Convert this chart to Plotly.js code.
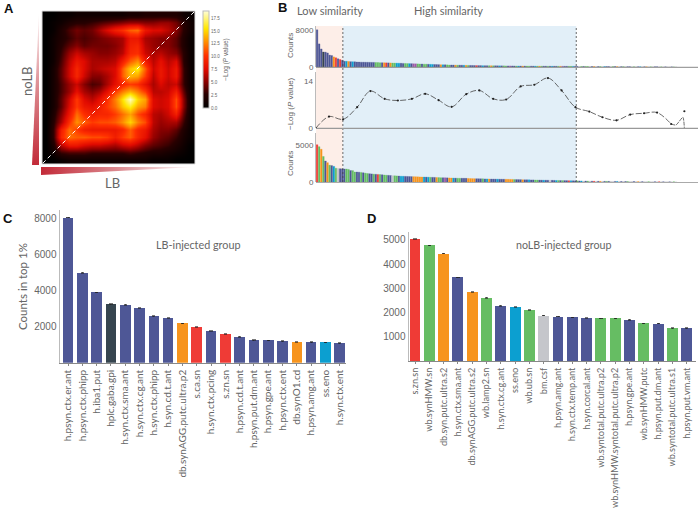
<!DOCTYPE html>
<html><head><meta charset="utf-8">
<script src="https://cdn.plot.ly/plotly-3.0.1.min.js"></script>
<style>html,body{margin:0;padding:0;background:#fff}#c{width:700px;height:511px}</style>
</head><body><div id="c"></div>
<script>
const W=700,H=511;
const heat=[
[0,0,.5,.5,1,1,1,1,1,1,1,1.5,1.5,2,2,2,2,2,1,.5],
[0,.5,1,2,2.5,2.5,3,3.5,4,4.5,5,5.5,5.5,5,5,5.5,5.5,4.5,2.5,1],
[0,.5,2,3.5,4.5,4,4.5,6,7.5,9,10,11.5,12,8.5,7.5,7.5,6.5,5,2.5,1],
[0,1,2,3,4,3.5,4,4.5,5,5.5,6,8.5,8.5,6,5.5,5,5,4,2,.5],
[0,1,2.5,4,5,4,4.5,4.5,4.5,5,6,9,9.5,6.5,5.5,5,5,4,2,.5],
[0,1,3,5.5,7,6,5.5,5,5,5.5,6.5,9.5,10,7,6,6.5,5.5,5,2.5,.5],
[0,1,3.5,6.5,8.5,7.5,6,6,6,6.5,9,11.5,13,9,6.5,8,6.5,7.5,2.5,.5],
[0,1.5,4,7,9.5,7.5,6,6.5,7,7.5,11.5,14.5,16,11.5,7,8.5,7,8.5,3,.5],
[0,1.5,4,7,9.5,7,5,5,6,7.5,11.5,14,13.5,10.5,6.5,8.5,7,8.5,3,.5],
[0,1.5,3.5,5.5,7,5,3.5,4,6,8,9.5,10.5,10,8,6,7.5,6.5,7,3,.5],
[0,1.5,3.5,5.5,8,6,5,6,8,10.5,12.5,14,12.5,10.5,6.5,6.5,7,9,4,.5],
[0,1.5,4,7,10.5,7.5,6.5,8,10,12.5,15.5,18.5,15,13.5,7.5,7,7.5,11,5,.5],
[0,1.5,4,7.5,10.5,8.5,8,9,10.5,12,14.5,16,13.5,12.5,7.5,7,7.5,11,5,.5],
[0,2,5,8.5,12,10,9,9.5,9.5,10.5,12,13.5,11,9.5,6.5,6,7,9,4,.5],
[0,2.5,6,10,13,11.5,10.5,11,11,11.5,13,15,12.5,11,6.5,5.5,6,6,3,.5],
[0,3,9,12,10.5,9,8.5,8.5,8.5,8.5,9.5,11.5,9.5,8.5,6,5,5,4,2,.5],
[0,3,9.5,12,11.5,11.5,11,11,10.5,9,10.5,11.5,9.5,8,5.5,4.5,4,3,1.5,.5],
[0,2,6.5,8.5,8.5,7.5,7,7,6.5,6,7,7.5,6.5,5,4,3.5,3,2,1,0],
[0,1,3,3.5,3.5,3.5,3,3,3,3,3,3.5,3,2.5,2,2,1.5,1,.5,0],
[0,0,.5,1,1,1,1,1,1,1,1,1,1,1,.5,.5,.5,0,0,0]];
const heatScale=[[0,'#000000'],[.14,'#280000'],[.27,'#8a0000'],[.4,'#e00a00'],[.54,'#ff3000'],[.68,'#ff8c00'],[.82,'#ffe600'],[1,'#ffffd8']];
const cbTicks=[0,2.5,5,7.5,10,12.5,15,17.5];

const topCounts=[8050,5000,3900,3240,3220,3040,2580,2480,2180,1980,1760,1600,1450,1250,1240,1200,1150,1140,1130,1080,
1060,1050,1040,1030,1020,1010,1000,990,980,960,940,930,920,900,890,880,860,850,830,820,
800,780,770,750,730,720,700,690,670,650,640,620,610,590,570,560,540,530,510,500,
480,470,460,440,430,420,410,400,390,380,370,360,350,340,330,320,310,305,300,295,
290,285,280,275,270,265,260,255,250,245,240,235,230,225,220,215,210,205,200,195,
190,188,185,182,180,178,175,172,170,168,165,162,160,158,155,152,150,148,145,142,
140,138,135,132,130,125,122,120,118,115,112,110,108,105,102,100,98,95,92,90,
88,85,82,80,78,75,72,70,68,65,62,60,58,55,52,50,48,46,44,42,
40,38,36,34,32,30,28,26,24,22,20,18];
const topCodes="NNNDNNNNORNRNNBONBNNNNNNNNNNGGGNORNOGGBBNNGGBNPPGGNGGNBBNNNOBNGGNNOGNNBOGNNNRNNBNNGOGNNBNGGNPNNGBNONGGNNBGOGNNGNBNNGOPNNGGBNNSGNGGSNOSNGSBNNSGNOSNGSNNSGSNBSNOSGSNNSGSNSSNGSSNOSSNSSSNSS";
const botCounts=[5040,4770,4430,3450,2840,2610,2280,2220,2110,1870,1830,1800,1780,1760,1760,1700,1550,1540,1350,1350,
1330,1300,1250,1200,1150,1120,1090,1060,1040,1020,1000,980,950,920,900,880,860,840,820,800,
780,770,760,750,740,730,720,710,700,690,680,670,660,650,640,630,620,610,600,590,
580,570,560,550,540,530,520,510,505,500,495,490,480,470,460,450,445,440,435,430,
420,415,410,400,395,390,385,380,375,370,365,360,355,350,340,330,325,320,310,300,
295,290,285,280,270,265,260,250,245,240,235,230,225,220,210,205,200,195,190,185,
180,170,160,155,150,145,140,135,130,125,120,115,110,105,100,98,95,92,90,88,
85,82,80,78,75,72,70,68,65,62,60,58,55,52,50,48,46,44,42,40,
38,36,34,32,30,28,26,24,22,20,18,16];
const botCodes="RGOGNOGNBGSNNNGGNGGNNGNGGNNGNRGNGGNNSGGNBBNNNNOOOOOBNBGNNOGGNPNOOBNGGNNNOOOONNNGNBONNNBNNNOOOOGNNNONNBNNGGNNBNNSNNBGNGNNRBNNGNBSNGSNRSNOSNGNSSNBSNSNGSSNSOSNSSGSSNSRSNSSNSGSSNSSNSNSSNSSN";
const colorOf={N:'#4e5796',G:'#66bd63',O:'#f7941d',R:'#ef3b36',B:'#0c9fd0',S:'#c5c6cb',D:'#36454f',P:'#a05aa8'};

const simX=[0,6.2,12.9,19.6,25.9,32.7,39,45.7,52,58.4,64.6,71.6,77.8,84.4,90.6,97.5,104,110.5,117,123.6,130.2,136.5,143.2,149.7,156.3,162.5,169.2];
const simY=[0,3.4,2.6,6.2,11,8.7,8.2,8.7,10.2,8.3,6.3,10.1,11.2,8.7,8.5,12.4,12.9,14.9,11.2,6.2,4.9,3.2,2.3,4,4.4,4.6,1.2];
const tailX=[169.2,171.5,174.8,175.5];
const tailY=[1.2,.9,3.2,0];
const lastX=[175.5], lastY=[5];

const catsC=["h.psyn.ctx.er.ant","h.psyn.ctx.phipp","h.iba1.put","hplc.gaba.gpi","h.syn.ctx.sma.ant","h.syn.ctx.cg.ant","h.syn.ctx.phipp","h.syn.cd.t.ant","db.synAGG.putc.ultra.p2","s.ca.sn","h.syn.ctx.pcing","s.zn.sn","h.psyn.cd.t.ant","h.psyn.put.dm.ant","h.psyn.gpe.ant","h.psyn.ctx.ent","db.synO1.cd","h.psyn.amg.ant","ss.eno","h.syn.ctx.ent"];
const valsC=[8050,5000,3900,3240,3220,3040,2580,2480,2180,1980,1760,1600,1450,1250,1240,1200,1150,1140,1130,1080];
const codesC="NNNDNNNNORNRNNNNONBN";
const catsD=["s.zn.sn","wb.synHMW.sn","db.syn.putc.ultra.s2","h.syn.ctx.sma.ant","db.synAGG.putc.ultra.s2","wb.lamp2.sn","h.syn.ctx.cg.ant","ss.eno","wb.ub.sn","bm.csf","h.psyn.amg.ant","h.syn.ctx.temp.ant","h.syn.corcal.ant","wb.syntotal.putc.ultra.p2","wb.synHMW.syntotal.putc.ultra.p2","h.psyn.gpe.ant","wb.synHMW.putc","h.psyn.put.dm.ant","wb.syntotal.putc.ultra.s1","h.psyn.put.vm.ant"];
const valsD=[5040,4770,4430,3450,2840,2610,2280,2220,2110,1870,1830,1800,1780,1760,1760,1700,1550,1540,1350,1350];
const codesD="RGONOGNBGSNNNGGNGNGN";
const barX=n=>n.map((_,i)=>i+.5);
const cols=(s,n)=>Array.from({length:n},(_,i)=>colorOf[s[i]||'S']);

const SANS='"Liberation Sans",Arial,sans-serif', HUM='Lato,"Open Sans",sans-serif', GREY='#666';
const dx=(a,b)=>[a/W,b/W], dy=(top,bot)=>[1-bot/H,1-top/H];
const px=x=>x/W, py=y=>1-y/H;
const ann=(x,y,text,size,o={})=>Object.assign({xref:'paper',yref:'paper',x:px(x),y:py(y),text,showarrow:false,xanchor:'center',yanchor:'middle',font:{family:HUM,size,color:GREY}},o);
const BL=12.8, BH=124;
const bx={domain:dx(316,698),range:[0,182],showticklabels:false,ticks:'',showgrid:false,zeroline:false,showline:false};
const by=(extra)=>Object.assign({showgrid:false,zeroline:false,showline:true,linecolor:'#bbb',linewidth:1,ticks:'',tickfont:{family:SANS,size:8,color:GREY},tickmode:'array'},extra);
const boldF={family:SANS,size:13,color:'#111',weight:700}, smallF={family:SANS,size:8,color:GREY};
const wedge=[[0,'#c22a38'],[.5,'#dc8a90'],[1,'#ffffff']];

const traces=[
{type:'heatmap',z:heat,xaxis:'x',yaxis:'y',zmin:0,zmax:18.9,zsmooth:'best',colorscale:heatScale,
 colorbar:{thickness:6,len:97/H,lenmode:'fraction',y:py(108),yanchor:'bottom',x:px(203),xanchor:'left',xpad:0,ypad:0,outlinecolor:'#bbb',outlinewidth:1,
  tickvals:cbTicks,ticktext:cbTicks.map(v=>v.toFixed(1)),ticks:'',tickfont:{family:SANS,size:4.5,color:'#666'},
  title:{text:'−Log (<i>P</i> value)',side:'right',font:{family:SANS,size:6.5,color:'#666'}}}},
{type:'scatter',mode:'lines',x:[-.4,19.4],y:[19.4,-.4],xaxis:'x',yaxis:'y',line:{color:'#fff',width:1,dash:'4px,3px'},hoverinfo:'skip'},
{type:'bar',x:barX(topCounts),y:topCounts,xaxis:'x2',yaxis:'y2',marker:{color:cols(topCodes,topCounts.length),line:{width:.3,color:cols(topCodes,topCounts.length)}},width:.82},
{type:'scatter',mode:'lines',x:simX,y:simY,xaxis:'x3',yaxis:'y3',line:{color:'#444',width:.8,dash:'6px,2px',shape:'spline',smoothing:1},hoverinfo:'skip'},
{type:'scatter',mode:'lines',x:tailX,y:tailY,xaxis:'x3',yaxis:'y3',line:{color:'#444',width:.8,dash:'4px,1px',shape:'spline',smoothing:.6},hoverinfo:'skip'},
{type:'scatter',mode:'markers',x:simX.concat(lastX),y:simY.concat(lastY),xaxis:'x3',yaxis:'y3',marker:{color:'#222',size:2.2},hoverinfo:'skip'},
{type:'bar',x:barX(botCounts),y:botCounts,xaxis:'x4',yaxis:'y4',marker:{color:cols(botCodes,botCounts.length),line:{width:.3,color:cols(botCodes,botCounts.length)}},width:.82},
{type:'bar',x:catsC,y:valsC,xaxis:'x5',yaxis:'y5',width:.74,marker:{color:cols(codesC,20),line:{width:0}},error_y:{type:'constant',value:22,thickness:.6,width:1.6,color:'#222'}},
{type:'bar',x:catsD,y:valsD,xaxis:'x6',yaxis:'y6',width:.76,marker:{color:cols(codesD,20),line:{width:0}},error_y:{type:'constant',value:12,thickness:.6,width:1.6,color:'#222'}},
{type:'scatter',mode:'lines',x:[32,39,39,32],y:[165,165,11,165],xaxis:'x7',yaxis:'y7',fill:'toself',line:{width:0},hoverinfo:'skip',
 fillgradient:{type:'vertical',colorscale:wedge}},
{type:'scatter',mode:'lines',x:[41,41,195,41],y:[167,175,167,167],xaxis:'x7',yaxis:'y7',fill:'toself',line:{width:0},hoverinfo:'skip',
 fillgradient:{type:'horizontal',colorscale:wedge}}
];

const axC=(size)=>({type:'category',tickangle:-90,tickfont:{family:HUM,size,color:GREY},ticks:'outside',ticklen:2,tickcolor:'#888',showline:true,linecolor:'#888',linewidth:1,showgrid:false,zeroline:false,automargin:false});
const layout={width:W,height:H,margin:{l:0,r:0,t:0,b:0},paper_bgcolor:'#fff',plot_bgcolor:'rgba(0,0,0,0)',showlegend:false,bargap:0,
 xaxis:{domain:dx(42,195),range:[-.5,19.5],visible:false},
 yaxis:{domain:dy(11,164),range:[19.5,-.5],visible:false},
 xaxis2:Object.assign({},bx,{anchor:'y2'}),
 yaxis2:by({domain:dy(26,67),range:[0,8865],tickvals:[0,8000],ticktext:['0','8000'],anchor:'x2'}),
 xaxis3:Object.assign({},bx,{anchor:'y3'}),
 yaxis3:by({domain:dy(72,128),range:[0,16.7],tickvals:[0,14],ticktext:['0','14'],anchor:'x3',linewidth:1.5}),
 xaxis4:Object.assign({},bx,{anchor:'y4'}),
 yaxis4:by({domain:dy(133,182),range:[0,6620],tickvals:[0,5000],ticktext:['0','5000'],anchor:'x4'}),
 xaxis5:Object.assign(axC(10),{domain:dx(60,346),range:[-.56,19.44],anchor:'y5'}),
 yaxis5:{domain:dy(210,362.8),range:[0,8470],tickvals:[2000,4000,6000,8000],tickfont:{family:SANS,size:10,color:GREY},ticks:'',showline:true,linecolor:'#bbb',linewidth:1.5,showgrid:false,zeroline:false,anchor:'x5'},
 xaxis6:Object.assign(axC(9.2),{domain:dx(409,696),range:[-.42,19.65],anchor:'y6'}),
 yaxis6:{domain:dy(232,361),range:[0,5320],tickvals:[1000,2000,3000,4000,5000],tickfont:{family:SANS,size:10,color:GREY},ticks:'',showline:true,linecolor:'#bbb',linewidth:1.5,showgrid:false,zeroline:false,anchor:'x6'},
 xaxis7:{domain:[0,1],range:[0,W],visible:false,anchor:'y7'},
 yaxis7:{domain:[0,1],range:[H,0],visible:false,anchor:'x7'},
 shapes:[
  {type:'rect',xref:'x2',yref:'paper',x0:0,x1:BL,y0:py(182),y1:py(26),fillcolor:'#fdeee8',line:{width:0},layer:'below'},
  {type:'rect',xref:'x2',yref:'paper',x0:BL,x1:BH,y0:py(182),y1:py(26),fillcolor:'#e2eff8',line:{width:0},layer:'below'},
  {type:'line',xref:'x2',yref:'paper',x0:BL,x1:BL,y0:py(182),y1:py(26),line:{color:'#444',width:.8,dash:'2px,2px'}},
  {type:'line',xref:'x2',yref:'paper',x0:BH,x1:BH,y0:py(182),y1:py(26),line:{color:'#444',width:.8,dash:'2px,2px'}},
  {type:'line',xref:'x2',yref:'paper',x0:0,x1:182,y0:py(67.3),y1:py(67.3),line:{color:'#888',width:1}},
  {type:'line',xref:'x2',yref:'paper',x0:0,x1:182,y0:py(128.3),y1:py(128.3),line:{color:'#999',width:1.2}},
  {type:'line',xref:'x2',yref:'paper',x0:0,x1:182,y0:py(182.5),y1:py(182.5),line:{color:'#aaa',width:1}},
  {type:'rect',xref:'paper',yref:'paper',x0:px(42),x1:px(195),y0:py(164),y1:py(11),line:{color:'#ddd',width:1}}
 ],
 annotations:[
  ann(9,8,'A',13,{font:boldF}),
  ann(282,7,'B',13,{font:boldF}),
  ann(8,218,'C',13,{font:boldF}),
  ann(371,218,'D',13,{font:boldF}),
  ann(27,81,'noLB',13,{textangle:-90}),
  ann(112,183,'LB',13),
  ann(330,10.5,'Low similarity',11),
  ann(448,10.5,'High similarity',11),
  ann(290,46,'Counts',8,{textangle:-90,font:smallF}),
  ann(290,104,'−Log (<i>P</i> value)',8,{textangle:-90,font:smallF}),
  ann(290,164,'Counts',8,{textangle:-90,font:smallF}),
  ann(22,287,'Counts in top 1%',11.5,{textangle:-90}),
  ann(198,244,'LB-injected group',10.8),
  ann(563,244,'noLB-injected group',10.7)
 ]
};
Plotly.newPlot('c',traces,layout,{displayModeBar:false,staticPlot:true});
</script></body></html>
